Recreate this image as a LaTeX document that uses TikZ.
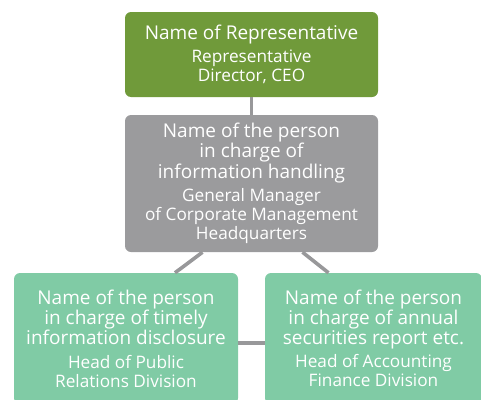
\documentclass[tikz,border=0pt]{standalone}
\usepackage{fontspec}
\setmainfont{Open Sans}
\usepackage{tikz}
\definecolor{repgreen}{RGB}{112,154,58}
\definecolor{midgray}{RGB}{155,155,157}
\definecolor{mintgreen}{RGB}{128,203,165}
\definecolor{linkgray}{RGB}{152,152,154}
\newcommand{\headfont}{\fontsize{19}{18.5}\selectfont}
\newcommand{\rolefont}{\fontsize{17.2}{19}\selectfont}
\newcommand{\boxtext}[2]{\centering\spaceskip=0pt\xspaceskip=0pt
  {\headfont #1\par}\vspace{4.5pt}{\rolefont #2\par}}

\begin{document}
\begin{tikzpicture}[x=1pt,y=-1pt,
  box/.style={rounded corners=6pt,text=white,inner sep=0pt,text width=#1,minimum width=#1},
  link/.style={draw=linkgray,line width=3.6pt}]
\useasboundingbox (0,0) rectangle (481,399);
\clip (0,0) rectangle (481,399);
\node[box=253pt,fill=repgreen,minimum height=85pt] (rep) at (251.5,54.5)
  {\boxtext{Name of Representative}{Representative\\Director, CEO}};
\node[box=253pt,fill=midgray,minimum height=137pt] (handling) at (251.5,183.5)
  {\boxtext{Name of the person\\in charge of\\information handling}
   {General Manager\\of Corporate Management\\Headquarters}};
\node[box=224pt,fill=mintgreen,minimum height=131pt] (timely) at (126,338.5)
  {\boxtext{Name of the person\\in charge of timely\\information disclosure}
   {Head of Public\\Relations Division}};
\node[box=217pt,fill=mintgreen,minimum height=131pt] (annual) at (373.5,338.5)
  {\boxtext{Name of the person\\in charge of annual\\securities report etc.}
   {Head of Accounting\\Finance Division}};
\draw[link] (rep.south) -- (handling.north);
\draw[link] ([xshift=-49pt]handling.south) -- ([xshift=49pt]timely.north);
\draw[link] ([xshift=51pt]handling.south) -- ([xshift=-45pt]annual.north);
\draw[link] ([yshift=-4.5pt]timely.east) -- ([yshift=-4.5pt]annual.west);
\end{tikzpicture}
\end{document}
